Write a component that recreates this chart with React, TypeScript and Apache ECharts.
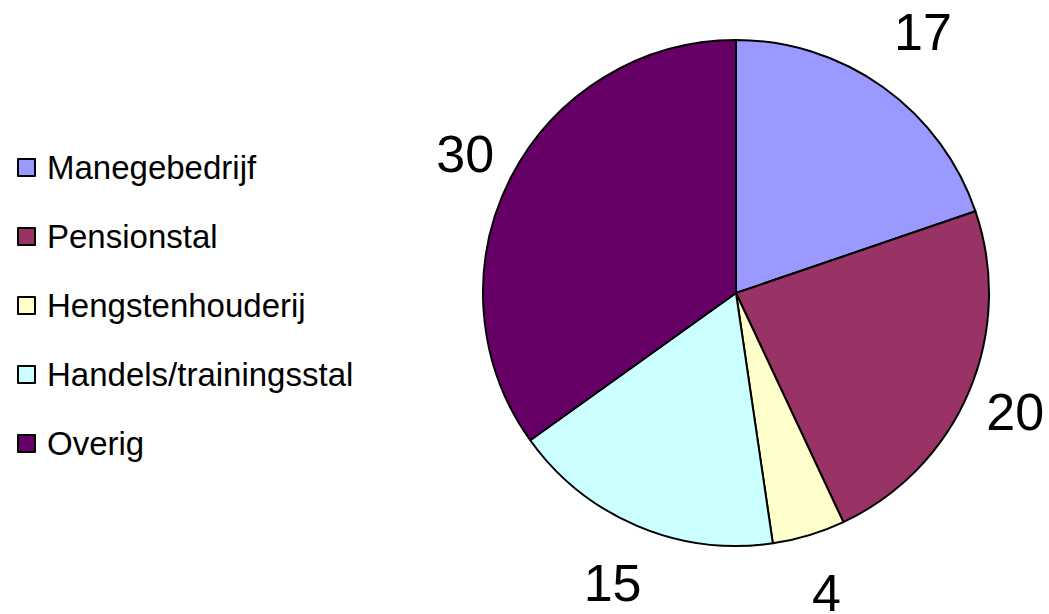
import React, { useEffect, useRef } from "react";
import * as echarts from "echarts";

const categories = [
  "Manegebedrijf",
  "Pensionstal",
  "Hengstenhouderij",
  "Handels/trainingsstal",
  "Overig",
];
const values = [17, 20, 4, 15, 30];
const colors = ["#9999FF", "#993366", "#FFFFCC", "#CCFFFF", "#660066"];

const FONT = "Arial, 'Liberation Sans', sans-serif";
const CX = 736;
const CY = 293;
const R = 253;

export default function App() {
  const ref = useRef<HTMLDivElement>(null);

  useEffect(() => {
    document.body.style.margin = "0";
    const chart = echarts.init(ref.current!, null, { renderer: "svg" });
    const total = values.reduce((a, b) => a + b, 0);
    const midAngles: number[] = [];
    let acc = 0;
    values.forEach((v) => {
      midAngles.push(((acc + v / 2) / total) * Math.PI * 2);
      acc += v;
    });
    const data = categories.map((name, i) => ({
      name,
      value: values[i],
      itemStyle: { color: colors[i] },
    }));
    chart.setOption({
      animation: false,
      backgroundColor: "#ffffff",
      legend: {
        orient: "vertical",
        left: 12,
        top: 146,
        itemWidth: 17,
        itemHeight: 17,
        itemGap: 36,
        icon: "rect",
        selectedMode: false,
        data: categories,
        itemStyle: { borderColor: "#000", borderWidth: 2 },
        textStyle: {
          fontFamily: FONT,
          fontSize: 33,
          lineHeight: 33,
          color: "#000",
          padding: [0, 0, 0, 7],
        },
      },
      series: [
        {
          type: "pie",
          center: [CX, CY],
          radius: R,
          startAngle: 90,
          clockwise: true,
          silent: true,
          data,
          itemStyle: { borderColor: "#000", borderWidth: 2 },
          label: {
            show: true,
            position: "inside",
            formatter: "{c}",
            fontFamily: FONT,
            fontSize: 52,
            color: "#000",
          },
          labelLine: { show: false },
          labelLayout: (params: any) => {
            const a = midAngles[params.dataIndex];
            const dx = Math.sin(a);
            const dy = -Math.cos(a);
            const halfW = params.labelRect.width / 2;
            const halfH = 40;
            const ext = Math.min(
              Math.abs(dx) > 1e-6 ? halfW / Math.abs(dx) : Infinity,
              Math.abs(dy) > 1e-6 ? halfH / Math.abs(dy) : Infinity
            );
            const d = 272 + ext;
            return {
              x: CX + dx * d,
              y: CY + dy * d,
              align: "center",
              verticalAlign: "middle",
            };
          },
          emphasis: { disabled: true },
        },
      ],
    });
    return () => chart.dispose();
  }, []);

  return (
    <div
      ref={ref}
      style={{ position: "absolute", left: 0, top: 0, width: 1049, height: 614 }}
    />
  );
}
